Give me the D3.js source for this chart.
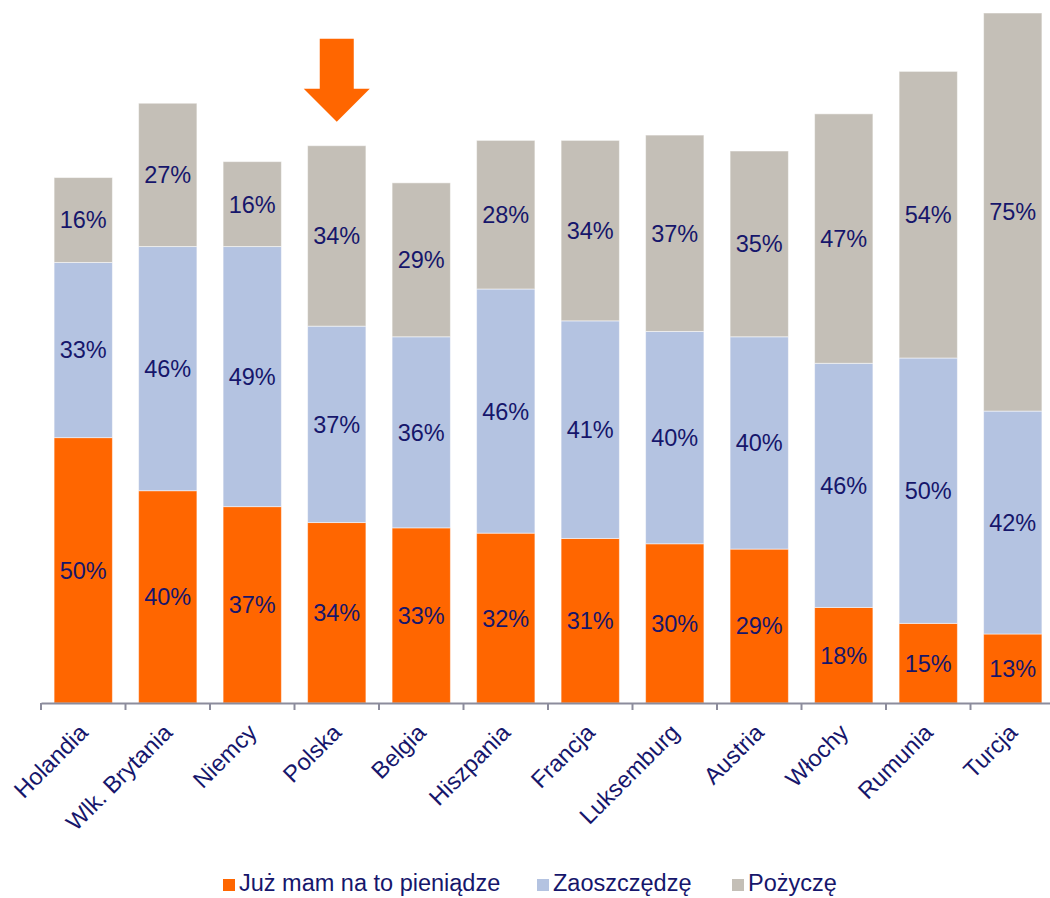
<!DOCTYPE html>
<html>
<head>
<meta charset="utf-8">
<script src="https://cdn.jsdelivr.net/npm/d3@7"></script>
<style>
  body { margin: 0; background: #fff; }
  svg { display: block; font-family: "Liberation Sans", Arial, sans-serif; }
</style>
</head>
<body>
<div id="container"></div>
<script>
//---------- DATA ----------//
const countries = ["Holandia", "Wlk. Brytania", "Niemcy", "Polska", "Belgia", "Hiszpania",
                   "Francja", "Luksemburg", "Austria", "Włochy", "Rumunia", "Turcja"];
const mam      = [50, 40, 37, 34, 33, 32, 31, 30, 29, 18, 15, 13];
const oszczedze = [33, 46, 49, 37, 36, 46, 41, 40, 40, 46, 50, 42];
const pozycze  = [16, 27, 16, 34, 29, 28, 34, 37, 35, 47, 54, 75];
const seriesNames = ["Już mam na to pieniądze", "Zaoszczędzę", "Pożyczę"];
const colors = ["#ff6600", "#b4c3e1", "#c4bfb7"];
const highlight = "Polska";

//---------- SVG ----------//
const width = 1050;
const height = 898;
const textColor = "#16166b";
const fontSize = "23.5px";

const svg = d3.select("div#container")
    .append("svg")
    .attr("width", width)
    .attr("height", height);

// build rows for stacking
const rows = countries.map((c, i) => ({ country: c, s0: mam[i], s1: oszczedze[i], s2: pozycze[i] }));
const stack = d3.stack().keys(["s0", "s1", "s2"]);
const layers = stack(rows);

//---------- SCALES ----------//
const xScale = d3.scaleBand()
    .domain(countries)
    .range([41, 1055])
    .paddingInner(0.31)
    .paddingOuter(0.155);

const yScale = d3.scaleLinear()
    .domain([0, 130])
    .range([703, 13]);

//---------- BARS ----------//
const groups = svg.selectAll(".layer")
    .data(layers)
    .join("g")
    .attr("class", "layer")
    .attr("fill", (d, i) => colors[i]);

groups.selectAll("rect")
    .data(d => d)
    .join("rect")
    .attr("x", d => xScale(d.data.country))
    .attr("y", d => yScale(d[1]))
    .attr("width", xScale.bandwidth())
    .attr("height", d => yScale(d[0]) - yScale(d[1]))
    .attr("stroke", "#ffffff")
    .attr("stroke-opacity", 0.5)
    .attr("stroke-width", 1);

// value labels
groups.selectAll("text")
    .data(d => d)
    .join("text")
    .attr("x", d => xScale(d.data.country) + xScale.bandwidth() / 2)
    .attr("y", d => (yScale(d[0]) + yScale(d[1])) / 2)
    .attr("dy", "0.36em")
    .attr("text-anchor", "middle")
    .attr("fill", textColor)
    .style("font-size", fontSize)
    .text(d => (d[1] - d[0]) + "%");

//---------- AXIS ----------//
const xAxis = d3.axisBottom(xScale).tickSize(0).tickFormat("");
const axisG = svg.append("g")
    .attr("transform", `translate(0,${yScale(0)})`)
    .call(xAxis);
axisG.select(".domain").attr("stroke", "#8c8c9c").attr("stroke-width", 2);

// ticks on band boundaries
const step = xScale.step();
const bounds = d3.range(countries.length + 1).map(i => 41 + i * step);
axisG.selectAll(".sep")
    .data(bounds)
    .join("line")
    .attr("class", "sep")
    .attr("x1", d => d).attr("x2", d => d)
    .attr("y1", 0).attr("y2", 7)
    .attr("stroke", "#8c8c9c")
    .attr("stroke-width", 2);

// rotated category labels
svg.selectAll(".cat")
    .data(countries)
    .join("text")
    .attr("class", "cat")
    .attr("text-anchor", "end")
    .attr("fill", textColor)
    .style("font-size", fontSize)
    .attr("transform", d => {
        const cx = xScale(d) + xScale.bandwidth() / 2 + 6;
        return `translate(${cx},${yScale(0) + 31}) rotate(-45)`;
    })
    .text(d => d);

//---------- ARROW ----------//
const ax = xScale(highlight) + xScale.bandwidth() / 2;
const hi = countries.indexOf(highlight);
const topY = yScale(mam[hi] + oszczedze[hi] + pozycze[hi]);
const tipY = topY - 24;
const arrow = d3.path();
arrow.moveTo(ax - 17, tipY - 83);
arrow.lineTo(ax + 17, tipY - 83);
arrow.lineTo(ax + 17, tipY - 33);
arrow.lineTo(ax + 33, tipY - 33);
arrow.lineTo(ax, tipY);
arrow.lineTo(ax - 33, tipY - 33);
arrow.lineTo(ax - 17, tipY - 33);
arrow.closePath();
svg.append("path")
    .attr("d", arrow.toString())
    .attr("fill", "#ff6600");

//---------- LEGEND ----------//
const legendX = [223, 537, 732];
const legend = svg.selectAll(".legend")
    .data(seriesNames)
    .join("g")
    .attr("class", "legend")
    .attr("transform", (d, i) => `translate(${legendX[i]},879)`);

legend.append("rect")
    .attr("width", 12)
    .attr("height", 12)
    .attr("fill", (d, i) => colors[i]);

legend.append("text")
    .attr("x", 16)
    .attr("y", 12)
    .attr("fill", textColor)
    .style("font-size", fontSize)
    .text(d => d);
</script>
</body>
</html>
